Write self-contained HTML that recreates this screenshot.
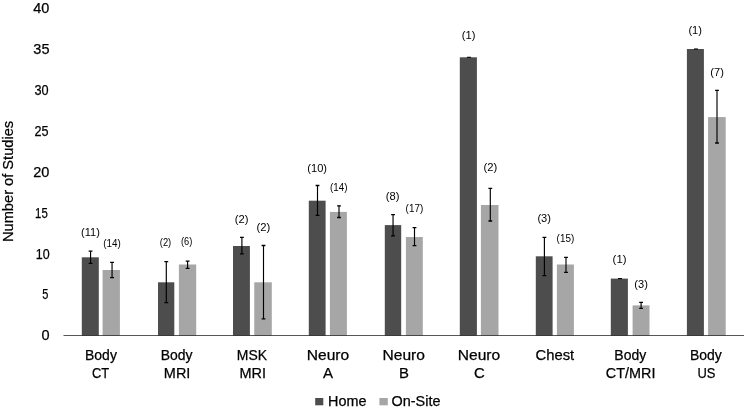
<!DOCTYPE html>
<html><head><meta charset="utf-8"><style>
html,body{margin:0;padding:0;background:#fff;}
body{width:747px;height:410px;overflow:hidden;}
svg{display:block;will-change:transform;}
text{font-family:"Liberation Sans",sans-serif;fill:#000;stroke:#000;stroke-width:0.25px;}
text.s{stroke-width:0;}
</style></head><body>
<svg width="747" height="410" viewBox="0 0 747 410">
<rect x="81.8" y="257.3" width="17" height="78.2" fill="#4d4d4d"/>
<rect x="102.6" y="270" width="17.3" height="65.5" fill="#a6a6a6"/>
<rect x="158" y="282.3" width="16.3" height="53.2" fill="#4d4d4d"/>
<rect x="178.9" y="264.5" width="17.3" height="71" fill="#a6a6a6"/>
<rect x="233" y="246" width="16.9" height="89.5" fill="#4d4d4d"/>
<rect x="254.25" y="282.3" width="17.55" height="53.2" fill="#a6a6a6"/>
<rect x="308.8" y="200.7" width="16.8" height="134.8" fill="#4d4d4d"/>
<rect x="329.9" y="211.9" width="17" height="123.6" fill="#a6a6a6"/>
<rect x="384.8" y="225.1" width="16.4" height="110.4" fill="#4d4d4d"/>
<rect x="405.9" y="237" width="16.9" height="98.5" fill="#a6a6a6"/>
<rect x="459.8" y="57.3" width="17.1" height="278.2" fill="#4d4d4d"/>
<rect x="480.9" y="205" width="17.6" height="130.5" fill="#a6a6a6"/>
<rect x="535.8" y="256.3" width="16.8" height="79.2" fill="#4d4d4d"/>
<rect x="556.9" y="264.5" width="17" height="71" fill="#a6a6a6"/>
<rect x="610.8" y="278.6" width="17.1" height="56.9" fill="#4d4d4d"/>
<rect x="632.6" y="305.4" width="16.9" height="30.1" fill="#a6a6a6"/>
<rect x="686.9" y="49" width="17" height="286.5" fill="#4d4d4d"/>
<rect x="708.1" y="117.1" width="17.6" height="218.4" fill="#a6a6a6"/>
<path d="M63.5 335.5H744" stroke="#000" stroke-opacity="0.66" stroke-width="1"/>
<path d="M90.55 251.1V263.4" stroke="#000" stroke-width="1.15"/>
<path d="M88.65 251.1H92.45M88.65 263.4H92.45" stroke="#000" stroke-width="1.3"/>
<path d="M112.05 262.4V277.7" stroke="#000" stroke-width="1.15"/>
<path d="M110.15 262.4H113.95M110.15 277.7H113.95" stroke="#000" stroke-width="1.3"/>
<path d="M166.3 261.6V302.6" stroke="#000" stroke-width="1.15"/>
<path d="M164.4 261.6H168.2M164.4 302.6H168.2" stroke="#000" stroke-width="1.3"/>
<path d="M187.6 261.1V268.4" stroke="#000" stroke-width="1.15"/>
<path d="M185.7 261.1H189.5M185.7 268.4H189.5" stroke="#000" stroke-width="1.3"/>
<path d="M241.9 237.4V253.8" stroke="#000" stroke-width="1.15"/>
<path d="M240 237.4H243.8M240 253.8H243.8" stroke="#000" stroke-width="1.3"/>
<path d="M263.5 245.5V318.9" stroke="#000" stroke-width="1.15"/>
<path d="M261.6 245.5H265.4M261.6 318.9H265.4" stroke="#000" stroke-width="1.3"/>
<path d="M317.5 185.5V215.4" stroke="#000" stroke-width="1.15"/>
<path d="M315.6 185.5H319.4M315.6 215.4H319.4" stroke="#000" stroke-width="1.3"/>
<path d="M339 205.8V217.5" stroke="#000" stroke-width="1.15"/>
<path d="M337.1 205.8H340.9M337.1 217.5H340.9" stroke="#000" stroke-width="1.3"/>
<path d="M393.05 214.6V235.9" stroke="#000" stroke-width="1.15"/>
<path d="M391.15 214.6H394.95M391.15 235.9H394.95" stroke="#000" stroke-width="1.3"/>
<path d="M414.5 227.6V245.6" stroke="#000" stroke-width="1.15"/>
<path d="M412.6 227.6H416.4M412.6 245.6H416.4" stroke="#000" stroke-width="1.3"/>
<path d="M466.95 57.3H470.95" stroke="#000" stroke-width="1.1"/>
<path d="M490.3 188.3V221" stroke="#000" stroke-width="1.15"/>
<path d="M488.4 188.3H492.2M488.4 221H492.2" stroke="#000" stroke-width="1.3"/>
<path d="M544.4 237.3V275.6" stroke="#000" stroke-width="1.15"/>
<path d="M542.5 237.3H546.3M542.5 275.6H546.3" stroke="#000" stroke-width="1.3"/>
<path d="M566 257.3V272.4" stroke="#000" stroke-width="1.15"/>
<path d="M564.1 257.3H567.9M564.1 272.4H567.9" stroke="#000" stroke-width="1.3"/>
<path d="M618 278.6H622" stroke="#000" stroke-width="1.1"/>
<path d="M641.1 302.4V308.3" stroke="#000" stroke-width="1.15"/>
<path d="M639.2 302.4H643M639.2 308.3H643" stroke="#000" stroke-width="1.3"/>
<path d="M693.95 49H697.95" stroke="#000" stroke-width="1.1"/>
<path d="M717 90.3V143" stroke="#000" stroke-width="1.15"/>
<path d="M715.1 90.3H718.9M715.1 143H718.9" stroke="#000" stroke-width="1.3"/>
<rect x="315.2" y="398" width="8.1" height="7.3" fill="#4d4d4d"/>
<rect x="379.4" y="398" width="8.4" height="7.3" fill="#a6a6a6"/>
<text x="41.35" y="12.9" text-anchor="middle" style="font-size:14.4px" textLength="16.09" lengthAdjust="spacingAndGlyphs">40</text>
<text x="41.4" y="53.84" text-anchor="middle" style="font-size:14.4px" textLength="16.12" lengthAdjust="spacingAndGlyphs">35</text>
<text x="41.55" y="94.77" text-anchor="middle" style="font-size:14.4px" textLength="14.14" lengthAdjust="spacingAndGlyphs">30</text>
<text x="41.4" y="135.71" text-anchor="middle" style="font-size:14.4px" textLength="14.05" lengthAdjust="spacingAndGlyphs">25</text>
<text x="41.3" y="176.65" text-anchor="middle" style="font-size:14.4px" textLength="16.19" lengthAdjust="spacingAndGlyphs">20</text>
<text x="41.45" y="217.59" text-anchor="middle" style="font-size:14.4px" textLength="12.68" lengthAdjust="spacingAndGlyphs">15</text>
<text x="42.8" y="258.52" text-anchor="middle" style="font-size:14.4px" textLength="13.87" lengthAdjust="spacingAndGlyphs">10</text>
<text x="45.35" y="299.46" text-anchor="middle" style="font-size:14.4px" textLength="6.13" lengthAdjust="spacingAndGlyphs">5</text>
<text x="45.45" y="340.4" text-anchor="middle" style="font-size:14.4px" textLength="8.08" lengthAdjust="spacingAndGlyphs">0</text>
<text transform="translate(13.2,181.45) rotate(-90)" text-anchor="middle" style="font-size:14.4px" textLength="121.24" lengthAdjust="spacingAndGlyphs">Number of Studies</text>
<text x="100.95" y="359.6" text-anchor="middle" style="font-size:14.4px" textLength="31.86" lengthAdjust="spacingAndGlyphs">Body</text>
<text x="100.5" y="378" text-anchor="middle" style="font-size:14.4px" textLength="17.16" lengthAdjust="spacingAndGlyphs">CT</text>
<text x="176.6" y="359.6" text-anchor="middle" style="font-size:14.4px" textLength="31.81" lengthAdjust="spacingAndGlyphs">Body</text>
<text x="177.1" y="378" text-anchor="middle" style="font-size:14.4px" textLength="26.49" lengthAdjust="spacingAndGlyphs">MRI</text>
<text x="251.95" y="359.6" text-anchor="middle" style="font-size:14.4px" textLength="30.2" lengthAdjust="spacingAndGlyphs">MSK</text>
<text x="252.7" y="378" text-anchor="middle" style="font-size:14.4px" textLength="26.51" lengthAdjust="spacingAndGlyphs">MRI</text>
<text x="328" y="359.6" text-anchor="middle" style="font-size:14.4px" textLength="42.43" lengthAdjust="spacingAndGlyphs">Neuro</text>
<text x="328.1" y="378" text-anchor="middle" style="font-size:14.4px" textLength="10.05" lengthAdjust="spacingAndGlyphs">A</text>
<text x="403.75" y="359.6" text-anchor="middle" style="font-size:14.4px" textLength="42.43" lengthAdjust="spacingAndGlyphs">Neuro</text>
<text x="403.95" y="378" text-anchor="middle" style="font-size:14.4px" textLength="9.93" lengthAdjust="spacingAndGlyphs">B</text>
<text x="479" y="359.6" text-anchor="middle" style="font-size:14.4px" textLength="42.41" lengthAdjust="spacingAndGlyphs">Neuro</text>
<text x="479.4" y="378" text-anchor="middle" style="font-size:14.4px" textLength="10.77" lengthAdjust="spacingAndGlyphs">C</text>
<text x="554.85" y="359.6" text-anchor="middle" style="font-size:14.4px" textLength="38.69" lengthAdjust="spacingAndGlyphs">Chest</text>
<text x="630.25" y="359.6" text-anchor="middle" style="font-size:14.4px" textLength="31.86" lengthAdjust="spacingAndGlyphs">Body</text>
<text x="630.65" y="378" text-anchor="middle" style="font-size:14.4px" textLength="49.6" lengthAdjust="spacingAndGlyphs">CT/MRI</text>
<text x="705.85" y="359.6" text-anchor="middle" style="font-size:14.4px" textLength="31.82" lengthAdjust="spacingAndGlyphs">Body</text>
<text x="706.4" y="378" text-anchor="middle" style="font-size:14.4px" textLength="17.98" lengthAdjust="spacingAndGlyphs">US</text>
<text class="s" x="90.45" y="235.9" text-anchor="middle" style="font-size:11px" textLength="18.81" lengthAdjust="spacingAndGlyphs">(11)</text>
<text class="s" x="112.05" y="247.2" text-anchor="middle" style="font-size:11px" textLength="17.55" lengthAdjust="spacingAndGlyphs">(14)</text>
<text class="s" x="165.5" y="246.4" text-anchor="middle" style="font-size:11px" textLength="11.44" lengthAdjust="spacingAndGlyphs">(2)</text>
<text class="s" x="186.65" y="244.9" text-anchor="middle" style="font-size:11px" textLength="11.34" lengthAdjust="spacingAndGlyphs">(6)</text>
<text class="s" x="241.7" y="223.4" text-anchor="middle" style="font-size:11px" textLength="13.66" lengthAdjust="spacingAndGlyphs">(2)</text>
<text class="s" x="263.4" y="230.7" text-anchor="middle" style="font-size:11px" textLength="13.75" lengthAdjust="spacingAndGlyphs">(2)</text>
<text class="s" x="317.2" y="171.9" text-anchor="middle" style="font-size:11px" textLength="19.67" lengthAdjust="spacingAndGlyphs">(10)</text>
<text class="s" x="338.75" y="191.2" text-anchor="middle" style="font-size:11px" textLength="17.44" lengthAdjust="spacingAndGlyphs">(14)</text>
<text class="s" x="392.65" y="200" text-anchor="middle" style="font-size:11px" textLength="13.65" lengthAdjust="spacingAndGlyphs">(8)</text>
<text class="s" x="414.4" y="212.3" text-anchor="middle" style="font-size:11px" textLength="17.6" lengthAdjust="spacingAndGlyphs">(17)</text>
<text class="s" x="468.65" y="38.9" text-anchor="middle" style="font-size:11px" textLength="13.65" lengthAdjust="spacingAndGlyphs">(1)</text>
<text class="s" x="490.3" y="170.9" text-anchor="middle" style="font-size:11px" textLength="13.73" lengthAdjust="spacingAndGlyphs">(2)</text>
<text class="s" x="544.15" y="222.2" text-anchor="middle" style="font-size:11px" textLength="13.54" lengthAdjust="spacingAndGlyphs">(3)</text>
<text class="s" x="565.4" y="241.7" text-anchor="middle" style="font-size:11px" textLength="17.6" lengthAdjust="spacingAndGlyphs">(15)</text>
<text class="s" x="619.55" y="263.4" text-anchor="middle" style="font-size:11px" textLength="13.84" lengthAdjust="spacingAndGlyphs">(1)</text>
<text class="s" x="641.1" y="287.8" text-anchor="middle" style="font-size:11px" textLength="13.53" lengthAdjust="spacingAndGlyphs">(3)</text>
<text class="s" x="695.15" y="33.9" text-anchor="middle" style="font-size:11px" textLength="13.55" lengthAdjust="spacingAndGlyphs">(1)</text>
<text class="s" x="717.1" y="75.8" text-anchor="middle" style="font-size:11px" textLength="13.53" lengthAdjust="spacingAndGlyphs">(7)</text>
<text x="347.35" y="405.7" text-anchor="middle" style="font-size:14.4px" textLength="38.42" lengthAdjust="spacingAndGlyphs">Home</text>
<text x="416" y="405.7" text-anchor="middle" style="font-size:14.4px" textLength="48.89" lengthAdjust="spacingAndGlyphs">On-Site</text>
</svg>
</body></html>
